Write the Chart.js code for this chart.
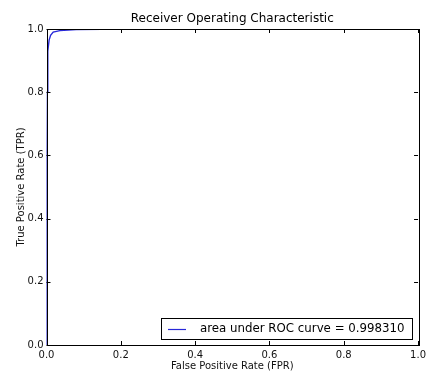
<!DOCTYPE html>
<html>
<head>
<meta charset="utf-8">
<script src="https://cdn.jsdelivr.net/npm/chart.js@4/dist/chart.umd.min.js"></script>
<style>
  html, body { margin: 0; padding: 0; background: #fff; }
  #wrap { width: 430px; height: 372px; }
</style>
</head>
<body>
<div id="wrap"><canvas id="roc"></canvas></div>
<script>
// ROC curve points (false positive rate, true positive rate)
var fpr = [0, 0, 0.001, 0.002, 0.003, 0.004, 0.007, 0.011, 0.018, 0.036, 0.08, 0.15, 0.3, 1.0];
var tpr = [0, 0.3, 0.6, 0.8, 0.88, 0.93, 0.965, 0.98, 0.99, 0.995, 0.998, 0.999, 1.0, 1.0];
var auc = 0.998310;
var tickValues = [0, 0.2, 0.4, 0.6, 0.8, 1.0];

var FONT = 'DejaVu Sans';
var curveColor = '#2828d8';

var points = fpr.map(function (x, i) { return { x: x, y: tpr[i] }; });

// frame + inward ticks on all four sides, matplotlib style
var framePlugin = {
    id: 'frame',
    afterDraw: function (chart) {
        var ctx = chart.ctx, ca = chart.chartArea;
        var xs = chart.scales.x, ys = chart.scales.y;
        var len = 4;
        ctx.save();
        ctx.strokeStyle = '#000';
        ctx.lineWidth = 1;
        ctx.strokeRect(Math.round(ca.left) + 0.5, Math.round(ca.top) + 0.5,
            Math.round(ca.right - ca.left), Math.round(ca.bottom - ca.top));
        ctx.beginPath();
        tickValues.forEach(function (v) {
            var px = Math.round(xs.getPixelForValue(v)) + 0.5;
            ctx.moveTo(px, ca.bottom); ctx.lineTo(px, ca.bottom - len);
            ctx.moveTo(px, ca.top); ctx.lineTo(px, ca.top + len);
            var py = Math.round(ys.getPixelForValue(v)) + 0.5;
            ctx.moveTo(ca.left, py); ctx.lineTo(ca.left + len, py);
            ctx.moveTo(ca.right, py); ctx.lineTo(ca.right - len, py);
        });
        ctx.stroke();
        ctx.restore();
    }
};

// legend box in the lower right corner of the plot
var legendPlugin = {
    id: 'innerLegend',
    afterDraw: function (chart) {
        var ctx = chart.ctx, ca = chart.chartArea;
        var ds = chart.data.datasets[0];
        ctx.save();
        ctx.font = '11.8px "' + FONT + '"';
        var tw = ctx.measureText(ds.label).width;
        var h = 21;
        var w = Math.round(tw + 46);
        var right = Math.round(ca.right) - 6;
        var bottom = Math.round(ca.bottom) - 6;
        var left = right - w, top = bottom - h;
        ctx.fillStyle = '#fff';
        ctx.fillRect(left, top, w, h);
        ctx.strokeStyle = '#000';
        ctx.lineWidth = 1;
        ctx.strokeRect(left + 0.5, top + 0.5, w, h);
        ctx.strokeStyle = ds.borderColor;
        ctx.lineWidth = 1.2;
        ctx.beginPath();
        ctx.moveTo(left + 7, top + 11.5);
        ctx.lineTo(left + 25, top + 11.5);
        ctx.stroke();
        ctx.fillStyle = '#000';
        ctx.textBaseline = 'middle';
        ctx.fillText(ds.label, left + 39, top + 11);
        ctx.restore();
    }
};

new Chart(document.getElementById('roc'), {
    type: 'scatter',
    data: {
        datasets: [{
            label: 'area under ROC curve = ' + auc.toFixed(6),
            data: points,
            showLine: true,
            borderColor: curveColor,
            borderWidth: 1.4,
            pointRadius: 0,
            tension: 0
        }]
    },
    options: {
        responsive: true,
        maintainAspectRatio: false,
        animation: false,
        layout: { padding: { left: 0, right: 10.5, top: 0, bottom: 0 } },
        plugins: {
            legend: { display: false },
            tooltip: { enabled: false },
            title: {
                display: true,
                fullSize: false,
                text: 'Receiver Operating Characteristic',
                color: '#000',
                font: { family: FONT, size: 12, weight: 'normal' },
                padding: { top: 12, bottom: 2.6 }
            }
        },
        scales: {
            x: {
                type: 'linear',
                min: 0, max: 1,
                afterBuildTicks: function (s) { s.ticks = tickValues.map(function (v) { return { value: v }; }); },
                afterFit: function (s) { s.height = 27; },
                grid: { display: false, drawTicks: false },
                border: { display: false },
                ticks: {
                    color: '#111',
                    padding: 4,
                    maxRotation: 0,
                    autoSkip: false,
                    font: { family: FONT, size: 10 },
                    callback: function (v) { return v.toFixed(1); }
                },
                title: {
                    display: true,
                    text: 'False Positive Rate (FPR)',
                    color: '#111',
                    font: { family: FONT, size: 10 },
                    padding: { top: 0, bottom: 0 }
                }
            },
            y: {
                type: 'linear',
                min: 0, max: 1,
                afterBuildTicks: function (s) { s.ticks = tickValues.map(function (v) { return { value: v }; }); },
                afterFit: function (s) { s.width = 46.5; },
                grid: { display: false, drawTicks: false },
                border: { display: false },
                ticks: {
                    color: '#111',
                    padding: 3,
                    autoSkip: false,
                    font: { family: FONT, size: 10 },
                    callback: function (v) { return v.toFixed(1); }
                },
                title: {
                    display: true,
                    text: 'True Positive Rate (TPR)',
                    color: '#111',
                    font: { family: FONT, size: 10 },
                    padding: { top: 15, bottom: 0 }
                }
            }
        }
    },
    plugins: [framePlugin, legendPlugin]
});
</script>
</body>
</html>
